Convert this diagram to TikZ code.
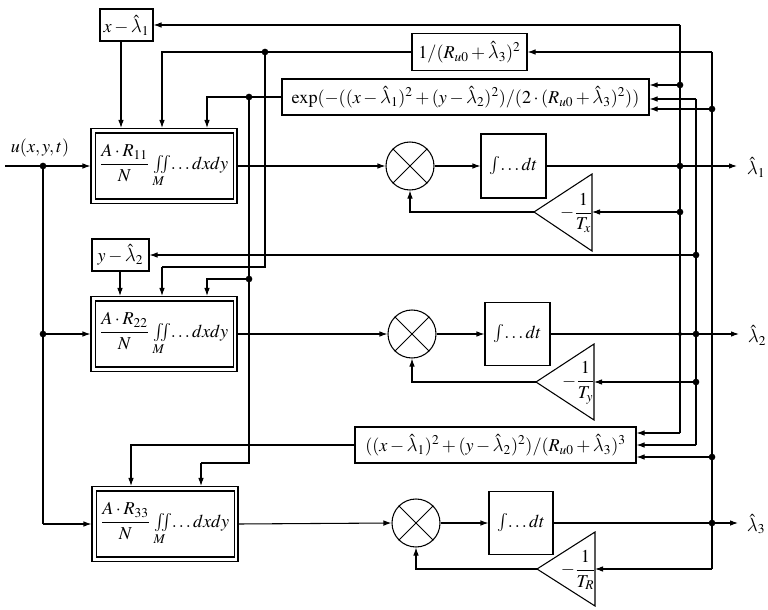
\documentclass[tikz,border=0pt]{standalone}
\usepackage{amsmath}
\usepackage{mathptmx}
\DeclareSymbolFont{lmletters}{OML}{lmm}{m}{it}
\DeclareMathSymbol{\lambda}{\mathord}{lmletters}{"15}
\usetikzlibrary{arrows.meta}
\newcommand\pxu{0.75pt}
\begin{document}
\begin{tikzpicture}[x=0.75pt,y=-0.75pt,
  font=\fontsize{13.6}{16}\selectfont,
  line/.style={line width=0.8pt},
  arr/.style={line width=0.8pt,-{Latex[length=6pt,width=4.2pt]}},
  blk/.style={draw,line width=0.8pt,inner sep=0pt,align=center},
  mult/.style={draw,circle,line width=0.8pt,inner sep=0pt,minimum size=36pt},
  dot/.style={circle,fill,inner sep=0pt,minimum size=5pt},
  sdot/.style={circle,fill,inner sep=0pt,minimum size=3pt},
  outer/.style={draw,line width=0.8pt,inner sep=0pt,minimum width=146*\pxu,minimum height=75*\pxu}
]
\useasboundingbox (0,0) rectangle (768,610);

% ---------- small function boxes
\node[blk,minimum width=53*\pxu,minimum height=32*\pxu] (xl1) at (126.5,25) {$x-\hat\lambda_1$};
\node[blk,minimum width=115*\pxu,minimum height=37*\pxu] (r3) at (469.5,52) {$1/(R_{u0}+\hat\lambda_3)^2$};
\node[blk,minimum width=367*\pxu,minimum height=36*\pxu] (ex) at (465.5,97) {$\exp(-((x-\hat\lambda_1)^2+(y-\hat\lambda_2)^2)/(2\cdot(R_{u0}+\hat\lambda_3)^2))$};
\node[blk,minimum width=57*\pxu,minimum height=32*\pxu] (yl2) at (120.5,255) {$y-\hat\lambda_2$};
\node[blk,minimum width=281*\pxu,minimum height=36*\pxu] (G) at (495.5,445) {$((x-\hat\lambda_1)^2+(y-\hat\lambda_2)^2)/(R_{u0}+\hat\lambda_3)^3$};

% ---------- correlator boxes (double border)
\node[outer] (B1) at (164,166) {$\displaystyle\frac{A\cdot R_{11}}{N}\;{\textstyle\iint\limits_{M}}\!\ldots dxdy$};
\node[outer] (B2) at (164,334) {$\displaystyle\frac{A\cdot R_{22}}{N}\;{\textstyle\iint\limits_{M}}\!\ldots dxdy$};
\node[outer] (B3) at (165,524) {$\displaystyle\frac{A\cdot R_{33}}{N}\;{\textstyle\iint\limits_{M}}\!\ldots dxdy$};
\foreach \b in {B1,B2,B3}{
  \draw[line width=1.3pt] ([shift={(5,5)}]\b.north west) rectangle ([shift={(-4,-5)}]\b.south east);
}

% ---------- multipliers
\node[mult] (M1) at (410,166) {};
\node[mult] (M2) at (412,334) {};
\node[mult] (M3) at (416,523) {};
\foreach \m in {M1,M2,M3}{
  \draw[line width=0.6pt] (\m.45) -- (\m.225) (\m.135) -- (\m.315);
}

% ---------- integrators
\node[blk,minimum width=65*\pxu,minimum height=64*\pxu] (I1) at (513.5,166) {$\int\!\ldots dt$};
\node[blk,minimum width=65*\pxu,minimum height=63*\pxu] (I2) at (517.5,334) {$\int\!\ldots dt$};
\node[blk,minimum width=64*\pxu,minimum height=63*\pxu] (I3) at (521,523) {$\int\!\ldots dt$};

% ---------- gain triangles
\coordinate (Txa) at (534,212); \coordinate (Txi) at (592,212);
\coordinate (Tya) at (536,382); \coordinate (Tyi) at (594,382);
\coordinate (Tra) at (537,569); \coordinate (Tri) at (595,569);
\draw[line] (Txa) -- (592,174) -- (592,251) -- cycle;
\draw[line] (Tya) -- (594,344) -- (594,420) -- cycle;
\draw[line] (Tra) -- (595,532) -- (595,606) -- cycle;
\node[anchor=east,inner sep=0pt] (tx) at (593,213) {$-\dfrac{1}{T_x}$};
\node[anchor=east,inner sep=0pt] (ty) at (595,383) {$-\dfrac{1}{T_y}$};
\node[anchor=east,inner sep=0pt] (tr) at (596,570) {$-\dfrac{1}{T_R}$};

% ---------- outputs
\node (o1) at (756,167) {$\hat\lambda_1$};
\node (o2) at (757,335) {$\hat\lambda_2$};
\node (o3) at (756,524) {$\hat\lambda_3$};
\coordinate (e1) at (737,166);
\coordinate (e2) at (739,334);
\coordinate (e3) at (738,523);

% ---------- input
\coordinate (in) at (5,166);
\node (ul) at (40,148) {$u(x,y,t)$};
\coordinate (L1) at (43,166);
\coordinate (L2) at (43,334);
\coordinate (L3) at (43,524);

% ---------- buses
\coordinate (b1t) at (680,25);  \coordinate (b1b) at (680,433);
\coordinate (b2t) at (696,99);  \coordinate (b2b) at (696,445);
\coordinate (b3t) at (712,52);  \coordinate (b3b) at (712,569);
\draw[line] (b1t) -- (b1b);
\draw[line] (b2t) -- (b2b);
\draw[line] (b3t) -- (b3b);

% forward chains
\draw[arr] (in) -- (B1.west);
\draw[line] (L1) -- (L3);
\draw[arr] (L2) -- (B2.west);
\draw[arr] (L3) -- (B3.west);
\node[dot] at (L1) {};
\node[dot] at (L2) {};

\foreach \i in {1,2,3}{
  \draw[arr] (B\i.east) -- (M\i.west);
  \draw[arr] (M\i.east) -- (I\i.west);
}
\draw[arr] (I1.east) -- (e1);
\draw[arr] (I2.east) -- (e2);
\draw[arr] (I3.east) -- (e3);
\node[dot] at (680,166) {};
\node[sdot] at (680,334) {};
\node[dot] at (696,334) {};
\node[dot] at (712,523) {};

% feedback through gains
\draw[arr] (680,212) -- (Txi); \node[dot] at (680,212) {};
\draw[arr] (696,382) -- (Tyi); \node[dot] at (696,382) {};
\draw[arr] (b3b) -- (Tri);
\draw[arr] (Txa) -| (M1.south);
\draw[arr] (Tya) -| (M2.south);
\draw[arr] (Tra) -| (M3.south);

% bus to function boxes
\draw[arr] (b1t) -- (xl1.east |- b1t);
\draw[arr] (680,85) -- (ex.east |- 0,85); \node[dot] at (680,85) {};
\draw[arr] (b2t) -- (ex.east |- b2t);
\draw[arr] (712,109) -- (ex.east |- 0,109); \node[dot] at (712,109) {};
\draw[arr] (b3t) -- (r3.east |- b3t);
\draw[arr] (696,255) -- (yl2.east |- 0,255); \node[dot] at (696,255) {};
\draw[arr] (b1b) -- (G.east |- b1b);
\draw[arr] (b2b) -- (G.east |- b2b);
\draw[arr] (712,457) -- (G.east |- 0,457); \node[dot] at (712,457) {};

% function boxes to correlators
\draw[arr] (xl1.south -| 121,0) -- (B1.north -| 121,0);
\draw[arr] (r3.west) -- (162,52) -- (B1.north -| 162,0);
\draw[line] (265,52) -- (265,267) -- (162,267);
\draw[arr] (162,267) -- (B2.north -| 162,0);
\node[dot] at (265,52) {};
\draw[arr] (ex.west) -- (207,97) -- (B1.north -| 207,0);
\draw[line] (249,97) -- (249,463) -- (201,463);
\draw[arr] (201,463) -- (B3.north -| 201,0);
\node[dot] at (249,97) {};
\draw[arr] (249,279) -- (207,279) -- (B2.north -| 207,0);
\node[dot] at (249,279) {};
\draw[arr] (yl2.south -| 120,0) -- (B2.north -| 120,0);
\draw[arr] (G.west) -- (131,445) -- (B3.north -| 131,0);
\end{tikzpicture}
\end{document}
